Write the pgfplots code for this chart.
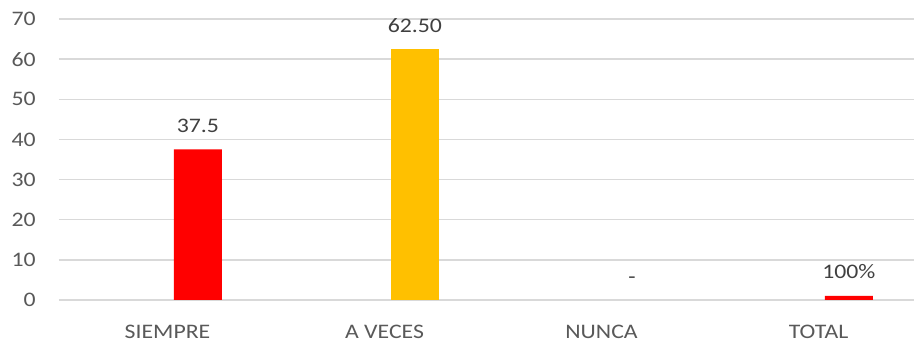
\documentclass[border=0pt]{standalone}
\usepackage{pgfplots}
\pgfplotsset{compat=1.18}
\usepackage{fontspec}
\setmainfont{Carlito}[FakeStretch=1.15]
\definecolor{barred}{HTML}{FF0000}
\definecolor{barorange}{HTML}{FFC000}
\definecolor{gridgray}{HTML}{D9D9D9}
\definecolor{ticktext}{HTML}{595959}
\definecolor{labeltext}{HTML}{404040}
\begin{document}
\begin{tikzpicture}
\begin{axis}[
    at={(0,0)}, anchor=south west,
    scale only axis,
    width=641.25pt, height=210.75pt,
    ybar, bar width=36pt, bar shift=0pt,
    xmin=-0.5, xmax=3.44,
    ymin=0, ymax=70,
    ytick={0,10,...,70},
    xtick={0,1,2,3},
    xticklabels={SIEMPRE, A VECES, NUNCA, TOTAL},
    major tick length=0pt,
    axis line style={draw=none},
    ymajorgrids, grid style={gridgray, line width=1pt},
    tick label style={font=\fontsize{15.5}{18}\selectfont, text=ticktext},
    /pgf/number format/assume math mode=true,
    yticklabel style={xshift=-14pt},
    xticklabel style={yshift=-15pt},
    point meta=explicit symbolic,
    nodes near coords,
    every node near coord/.append style={font=\fontsize{15.5}{18}\selectfont, text=labeltext, inner sep=0pt, yshift=12.5pt, anchor=south},
]
\addplot[fill=barred, draw=none] coordinates {(0.14,37.5) [37.5] (3.14,1) [100\%]};
\addplot[fill=barorange, draw=none] coordinates {(1.14,62.5) [62.50]};
\addplot[fill=none, draw=none] coordinates {(2.14,0) [-]};
\end{axis}
\pgfresetboundingbox
\path (-44.25pt,-34.5pt) rectangle (641.25pt,225pt);
\end{tikzpicture}
\end{document}
